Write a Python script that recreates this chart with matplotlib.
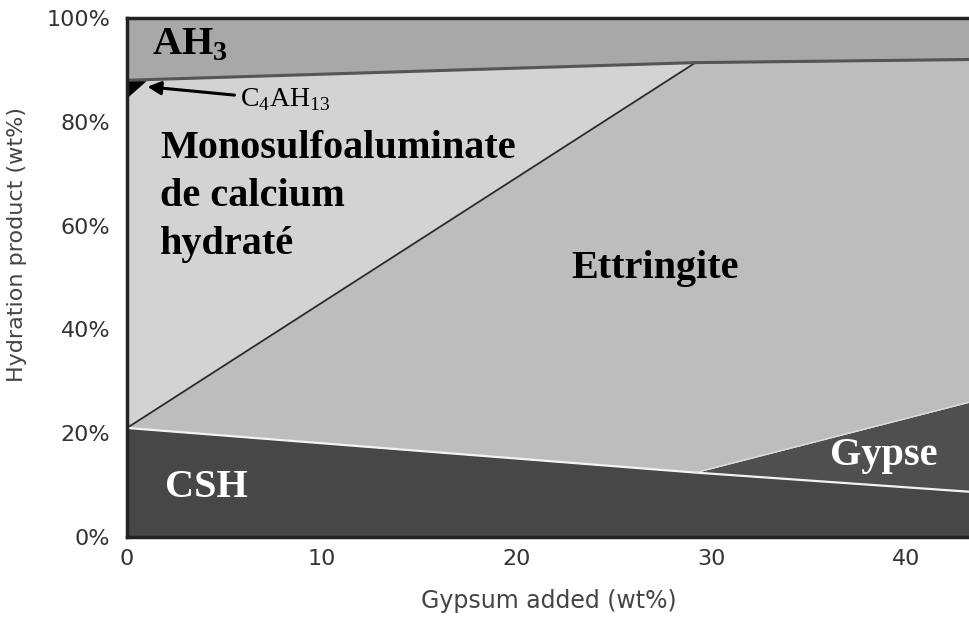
import matplotlib.pyplot as plt
from matplotlib.ticker import FuncFormatter

plt.rcParams["mathtext.fontset"] = "custom"
plt.rcParams["mathtext.rm"] = "Liberation Serif"
plt.rcParams["mathtext.bf"] = "Liberation Serif:bold"

# ── Data ──────────────────────────────────────────────────────────
gypsum = [0, 29.2, 43.3]          # gypsum added (wt%)
csh_top = [21, 12.4, 8.7]         # upper edge of CSH
gypse_top = [21, 12.4, 26]        # upper edge of Gypse (zero width before ~30)
ettr_top = [21, 91.4, 92]         # upper edge of Ettringite
ah3_bottom = [88, 91.4, 92]       # lower edge of AH3
c4ah13_x = [0, 0, 1.0]
c4ah13_y = [84.5, 88, 87.8]

# ── Colours ───────────────────────────────────────────────────────
C_AH3 = "#a8a8a8"
C_MONO = "#d3d3d3"
C_ETTR = "#bdbdbd"
C_CSH = "#474747"
C_GYPSE = "#4f4f4f"

fig = plt.figure(figsize=(9.7, 6.2), dpi=100)
ax = fig.add_axes([0.131, 0.134, 0.869, 0.837])

top = [100] * len(gypsum)
ax.fill_between(gypsum, 0, csh_top, color=C_CSH, lw=0)
ax.fill_between(gypsum, csh_top, gypse_top, color=C_GYPSE, lw=0)
ax.fill_between(gypsum, gypse_top, ettr_top, color=C_ETTR, lw=0)
ax.fill_between(gypsum, ettr_top, ah3_bottom, color=C_MONO, lw=0)
ax.fill_between(gypsum, ah3_bottom, top, color=C_AH3, lw=0)
ax.fill(c4ah13_x, c4ah13_y, color="black", lw=0)

# boundary lines
ax.plot(gypsum, ettr_top, color="#2a2a2a", lw=1.3)
ax.plot(gypsum, ah3_bottom, color="#555555", lw=2.2)
ax.plot(gypsum, csh_top, color="#f2f2f2", lw=1.6)
ax.plot(gypsum[1:], gypse_top[1:], color="#dcdcdc", lw=1.0)

ax.set_xlim(0, 43.3)
ax.set_ylim(0, 100)
ax.set_xticks([0, 10, 20, 30, 40])
ax.set_yticks([0, 20, 40, 60, 80, 100])
ax.yaxis.set_major_formatter(FuncFormatter(lambda v, p: f"{v:.0f}%"))
ax.tick_params(labelsize=16, labelcolor="#333333", length=0)
ax.tick_params(axis="y", pad=12)
ax.tick_params(axis="x", pad=9)
ax.set_xlabel("Gypsum added (wt%)", fontsize=17, color="#444444", labelpad=14)
ax.set_ylabel("Hydration product (wt%)", fontsize=16, color="#444444")
ax.yaxis.set_label_coords(-0.119, 0.563)

for s in ["left", "bottom", "top"]:
    ax.spines[s].set_color("#222222")
    ax.spines[s].set_linewidth(2.5)
ax.spines["right"].set_visible(False)

serif = "Liberation Serif"
ax.text(1.3, 94.8, r"AH$_\mathbf{3}$", family=serif, fontsize=29, fontweight="bold", va="center")
ax.text(1.7, 65.6, "Monosulfoaluminate\nde calcium\nhydraté", family=serif,
        fontsize=29, fontweight="bold", va="center", linespacing=1.4)
ax.text(22.8, 51.8, "Ettringite", family=serif, fontsize=29, fontweight="bold", va="center")
ax.text(36.1, 15.6, "Gypse", family=serif, fontsize=29, fontweight="bold",
        color="white", va="center")
ax.text(1.95, 9.6, "CSH", family=serif, fontsize=29, fontweight="bold",
        color="white", va="center")
ax.annotate(r"C$_4$AH$_{13}$", xy=(0.9, 86.8), xytext=(5.8, 84.2),
            family=serif, fontsize=20, va="center",
            arrowprops=dict(arrowstyle="-|>", color="black", lw=2.2, mutation_scale=20))

fig.savefig("out.png", dpi=100)
